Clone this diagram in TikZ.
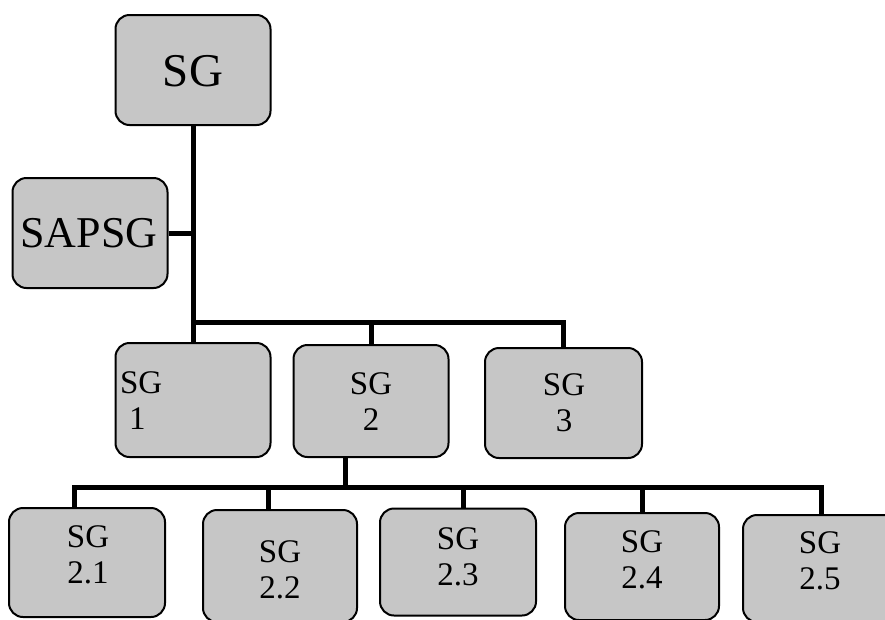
\documentclass[tikz,border=0pt]{standalone}
\usepackage{fontspec}
\setmainfont{Liberation Serif}
\definecolor{boxgray}{RGB}{198,198,198}

\tikzset{every picture/.style={line width=0.5pt}}
\tikzset{
  box/.style={draw=black, fill=boxgray, line width=2pt, rounded corners=14pt, minimum width=155pt, minimum height=110pt, inner sep=0pt},
  link/.style={draw=black, line width=5pt},
  txt/.style={inner sep=0.75pt, align=center, text=black, font=\fontsize{33}{36}\selectfont},
  toptxt/.style={inner sep=0.75pt, text=black, font=\fontsize{47}{50}\selectfont},
}

\begin{document}
\begin{tikzpicture}[x=1pt,y=1pt,yscale=-1,xscale=1]
\useasboundingbox (0,0) rectangle (885,619);

%Shape: Rounded Rect [sg]
\node[box] (sg) at (193,70) {};
%Shape: Rounded Rect [sapsg]
\node[box] (sapsg) at (90,233) {};
%Shape: Rounded Rect [level 1]
\node[box, minimum height=114pt] (sg1) at (193,400) {};
\node[box, minimum height=112pt] (sg2) at (371,401) {};
\node[box, minimum width=157pt] (sg3) at (563.5,403) {};
%Shape: Rounded Rect [level 2]
\node[box, minimum width=156pt, minimum height=109pt] (sg21) at (87,562.5) {};
\node[box, minimum width=154pt, minimum height=112pt] (sg22) at (280,566) {};
\node[box, minimum width=156pt, minimum height=107pt] (sg23) at (458,562) {};
\node[box, minimum width=154pt, minimum height=107pt] (sg24) at (642,566.5) {};
\node[box, minimum width=154pt, minimum height=107pt] (sg25) at (820,568.5) {};

%Straight Lines [trunk and level 1 bar]
\coordinate (j1) at (193,322);
\draw[link] (sg.south) -- (sg1.north);
\draw[link] (sapsg.east) -- (sapsg.east -| j1);
\draw[link] (j1) -| (sg3.north);
\draw[link] (sg2.north) -- (sg2.north |- j1);

%Straight Lines [level 2 bar]
\coordinate (j2) at (345,487);
\foreach \x [count=\i] in {74,268,463,642,821}
  \coordinate (k2\i) at (\x,487);
\draw[link] (sg2.south -| j2) -- (j2);
\draw[link] (k21 |- sg21.north) -- (k21) -- (k25) -- (k25 |- sg25.north);
\foreach \i in {2,3,4}
  \draw[link] (k2\i) -- (k2\i |- sg2\i.north);

% Text Node
\node[toptxt] (tsg) at (193,71) {SG};
% Text Node
\node[toptxt, font=\fontsize{44}{48}\selectfont] (tsapsg) at (89,233) {SAPSG};
% Text Node
\node[txt, anchor=west, align=left] (tsg1) at (119,401) {SG\\\hspace*{9pt}1};
\node[txt] (tsg2) at (371,402) {SG\\2};
\node[txt] (tsg3) at (564,403) {SG\\3};
% Text Node
\node[txt] (tsg21) at (88,555) {SG\\2.1};
\node[txt] (tsg22) at (280,570) {SG\\2.2};
\node[txt] (tsg23) at (458,557) {SG\\2.3};
\node[txt] (tsg24) at (642,560) {SG\\2.4};
\node[txt] (tsg25) at (820,561) {SG\\2.5};

\end{tikzpicture}
\end{document}
